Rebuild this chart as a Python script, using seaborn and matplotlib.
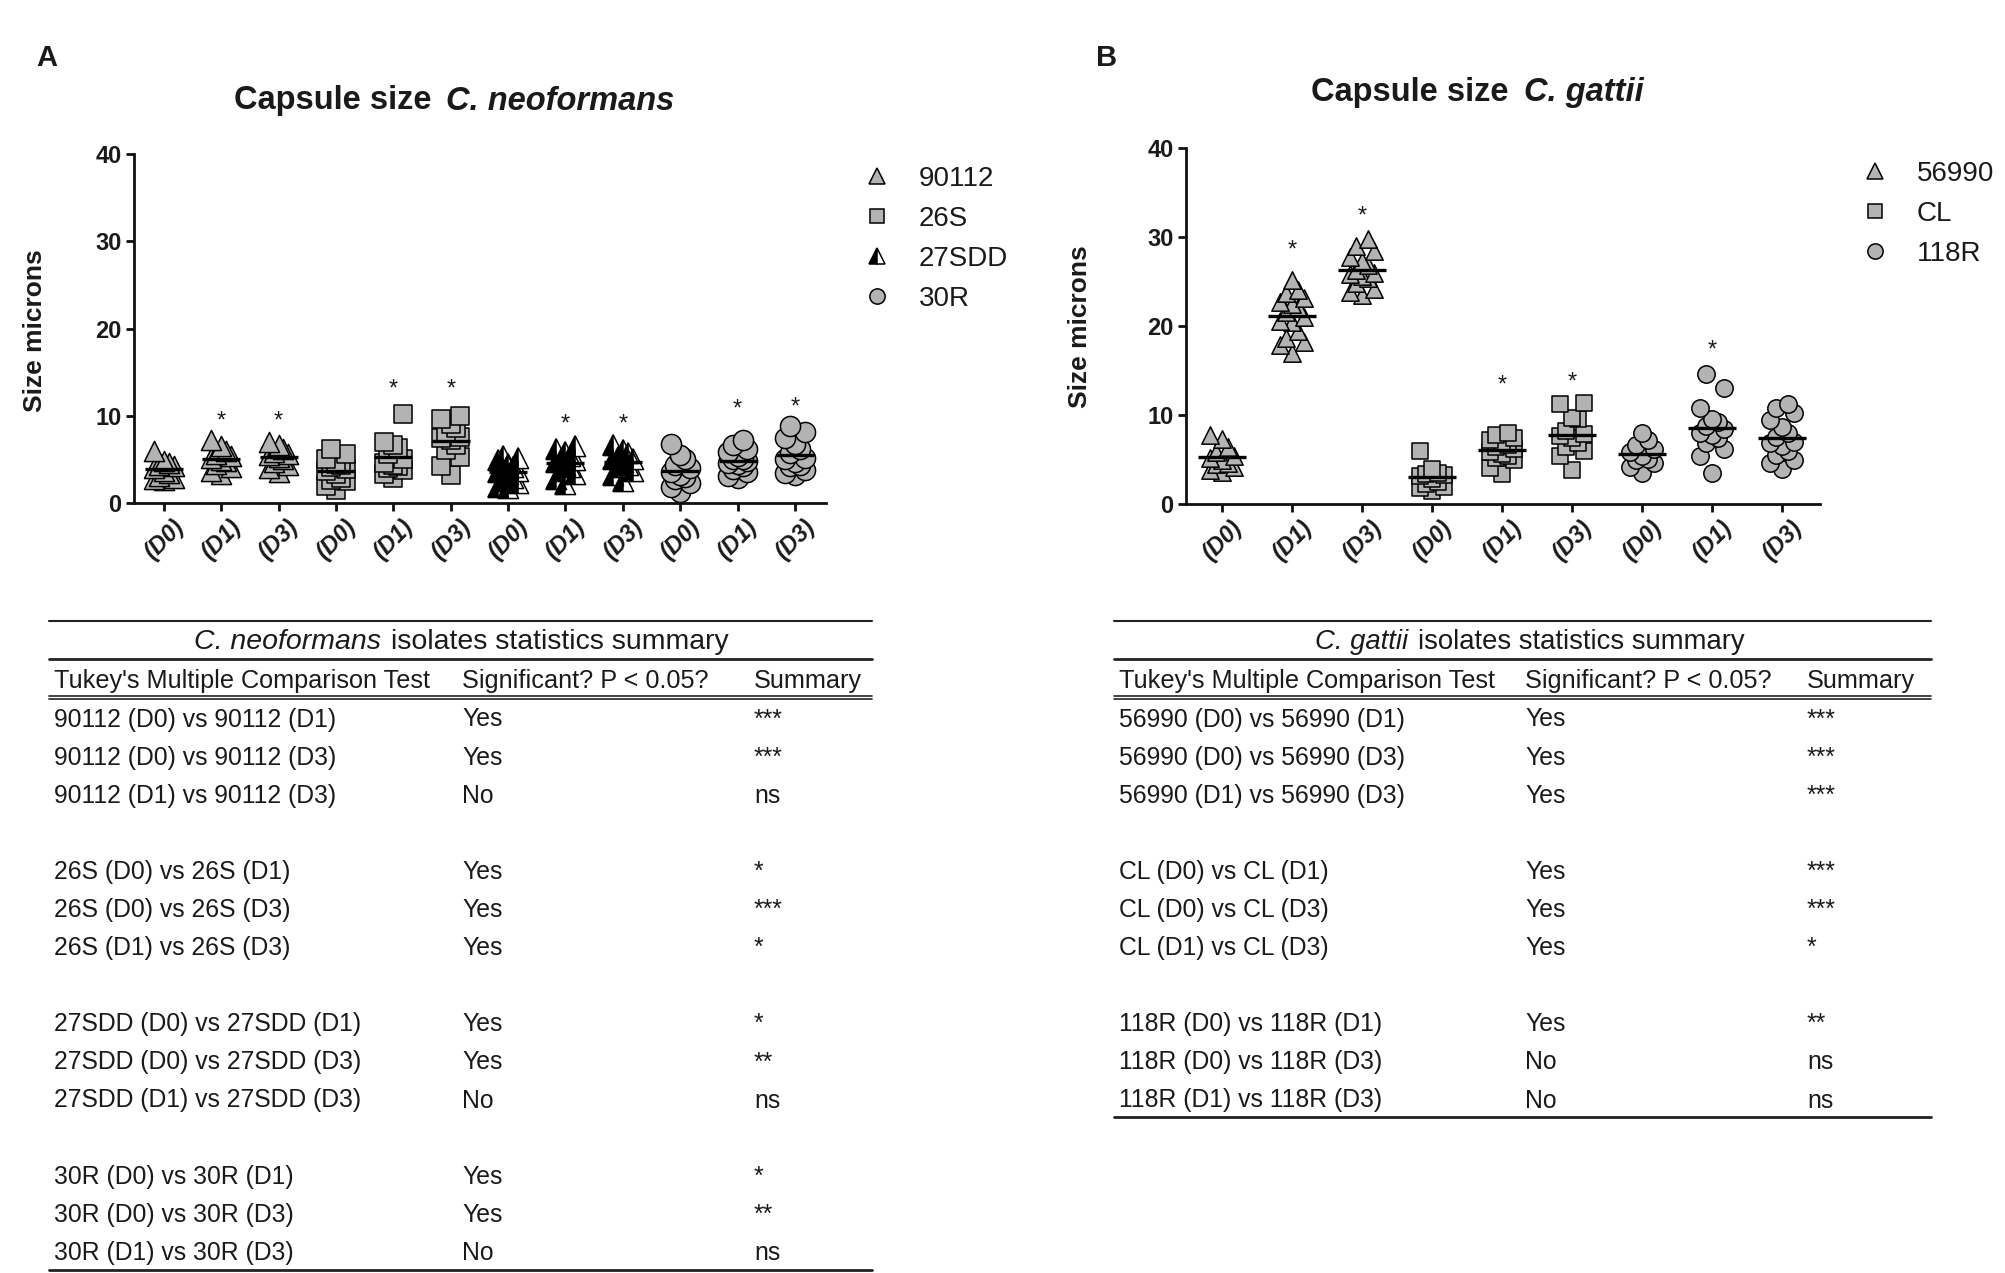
import matplotlib
matplotlib.use('Agg')
import matplotlib.pyplot as plt
from matplotlib.lines import Line2D
from matplotlib.markers import MarkerStyle
from matplotlib.text import Annotation
import seaborn as sns
import numpy as np
import pandas as pd

days = ['(D0)', '(D1)', '(D3)']

# C. neoformans capsule size (microns), one list per day D0, D1, D3
neo_strains = ['90112', '26S', '27SDD', '30R']
neo_90112 = [[6.0, 4.6, 4.3, 4.0, 3.7, 3.4, 3.1, 2.8, 2.6, 4.2, 4.8, 2.9],
             [7.2, 6.5, 6.0, 5.6, 5.2, 4.9, 4.5, 4.1, 3.7, 3.3, 5.4, 4.8],
             [7.0, 6.6, 6.2, 5.9, 5.6, 5.3, 5.0, 4.7, 4.3, 3.6, 5.5, 4.0]]
neo_26s = [[6.2, 5.6, 5.0, 4.5, 4.1, 3.7, 3.3, 2.9, 2.5, 2.0, 1.5, 3.9, 4.3, 2.6],
           [10.2, 7.0, 6.7, 6.3, 5.6, 5.0, 4.6, 4.2, 3.8, 3.3, 2.9, 4.0, 4.4],
           [10.0, 9.6, 9.1, 8.6, 8.1, 7.6, 7.2, 6.7, 6.1, 5.3, 4.2, 3.2, 7.4]]
neo_27sdd = [[5.4, 5.2, 4.9, 4.5, 4.1, 3.7, 3.3, 2.9, 2.5, 2.3, 1.7, 1.8, 3.6, 4.0],
             [6.5, 6.2, 5.8, 5.4, 5.0, 4.7, 4.4, 4.1, 3.7, 3.3, 2.8, 2.2, 4.9],
             [6.6, 6.1, 5.7, 5.3, 5.0, 4.7, 4.4, 4.1, 3.7, 3.2, 2.5, 5.1]]
neo_30r = [[6.8, 5.5, 5.0, 4.4, 4.0, 3.6, 3.2, 2.8, 2.3, 1.8, 1.3, 3.0],
           [7.2, 6.6, 6.2, 5.8, 5.4, 5.1, 4.8, 4.5, 4.2, 3.9, 3.5, 3.1, 2.9, 4.6, 5.0],
           [8.8, 8.1, 7.4, 6.8, 6.2, 5.7, 5.2, 4.7, 4.2, 3.8, 3.4, 3.2, 5.0, 4.4]]
neo_star_y = [None, 9.3, 9.3, None, 13.0, 13.0, None, 9.0, 9.0, None, 10.7, 10.9]

# C. gattii capsule size (microns)
gat_strains = ['56990', 'CL', '118R']
gat_56990 = [[7.8, 7.3, 6.4, 5.8, 5.4, 5.0, 4.6, 4.2, 3.8, 3.6, 5.2, 4.5],
             [25.2, 24.1, 23.7, 23.2, 22.7, 22.1, 21.6, 21.0, 20.6, 20.4, 19.4, 18.6,
              18.2, 17.9, 17.0, 22.5],
             [29.8, 29.0, 28.4, 27.8, 27.3, 26.8, 26.3, 25.8, 25.4, 24.8, 24.2, 23.8,
              23.5, 26.0, 25.6]]
gat_cl = [[6.0, 3.9, 3.5, 3.1, 2.8, 2.5, 2.2, 1.9, 1.8, 1.5, 3.4, 3.3],
          [8.0, 7.8, 7.4, 7.0, 6.6, 6.2, 5.8, 5.4, 5.0, 5.6, 5.2, 4.0, 3.4, 6.4, 7.2],
          [11.4, 11.2, 9.6, 9.7, 8.2, 7.6, 7.9, 7.4, 6.9, 6.4, 5.9, 5.4, 3.8]]
gat_118r = [[8.0, 7.2, 6.6, 6.2, 5.8, 5.4, 5.0, 4.6, 4.2, 3.5, 5.1],
            [14.6, 13.0, 10.8, 9.6, 9.2, 8.8, 8.4, 8.0, 7.4, 6.8, 6.2, 5.4, 3.5, 7.8],
            [11.2, 10.8, 10.2, 9.4, 8.6, 8.0, 7.5, 7.0, 6.5, 6.0, 5.5, 5.0, 4.6, 3.9, 6.8]]
gat_star_y = [None, 28.5, 32.3, None, 13.3, 13.6, None, 17.2, None]

# statistics tables
neo_tests = ['90112 (D0) vs 90112 (D1)', '90112 (D0) vs 90112 (D3)', '90112 (D1) vs 90112 (D3)',
             '26S (D0) vs 26S (D1)', '26S (D0) vs 26S (D3)', '26S (D1) vs 26S (D3)',
             '27SDD (D0) vs 27SDD (D1)', '27SDD (D0) vs 27SDD (D3)', '27SDD (D1) vs 27SDD (D3)',
             '30R (D0) vs 30R (D1)', '30R (D0) vs 30R (D3)', '30R (D1) vs 30R (D3)']
neo_signif = ['Yes', 'Yes', 'No', 'Yes', 'Yes', 'Yes', 'Yes', 'Yes', 'No', 'Yes', 'Yes', 'No']
neo_summary = ['***', '***', 'ns', '*', '***', '*', '*', '**', 'ns', '*', '**', 'ns']

gat_tests = ['56990 (D0) vs 56990 (D1)', '56990 (D0) vs 56990 (D3)', '56990 (D1) vs 56990 (D3)',
             'CL (D0) vs CL (D1)', 'CL (D0) vs CL (D3)', 'CL (D1) vs CL (D3)',
             '118R (D0) vs 118R (D1)', '118R (D0) vs 118R (D3)', '118R (D1) vs 118R (D3)']
gat_signif = ['Yes', 'Yes', 'Yes', 'Yes', 'Yes', 'Yes', 'Yes', 'No', 'No']
gat_summary = ['***', '***', '***', '***', '***', '*', '**', 'ns', 'ns']

table_header = ["Tukey's Multiple Comparison Test", 'Significant? P < 0.05?', 'Summary']

GRAY = '#b3b3b3'
INK = '#1a1a1a'
W, H = 2005, 1273

sns.set_theme(style='ticks')
plt.rcParams['font.family'] = ['Liberation Sans', 'DejaVu Sans']
plt.rcParams['text.color'] = INK


def fx(px):
    return px / W


def fy(py):
    return 1 - py / H


def build_frame(strains, groups):
    # deterministic side-by-side spread of points sorted by value
    spread = [0.0, -0.17, 0.17, -0.085, 0.085]
    recs = []
    for s_i, (strain, per_day) in enumerate(zip(strains, groups)):
        for d_i, vals in enumerate(per_day):
            pos = s_i * 3 + d_i
            for rank, idx in enumerate(np.argsort(vals)):
                recs.append({'strain': strain, 'pos': pos,
                             'x': pos + spread[rank % len(spread)],
                             'size': vals[idx]})
    return pd.DataFrame(recs)


def draw_panel(ax, df, strains, markers, msize, mean_w, star_y):
    for strain in strains:
        sub = df[df['strain'] == strain]
        m = markers[strain]
        if m == 'half':
            sns.scatterplot(data=sub, x='x', y='size', marker='^', s=msize ** 2,
                            color='white', edgecolor='black', linewidth=1.1,
                            ax=ax, legend=False)
            sns.scatterplot(data=sub, x='x', y='size',
                            marker=MarkerStyle('^', fillstyle='left'), s=msize ** 2,
                            color='black', edgecolor='black', linewidth=1.1,
                            ax=ax, legend=False)
        else:
            sc = msize * 0.92 if m == 's' else msize
            sns.scatterplot(data=sub, x='x', y='size', marker=m, s=sc ** 2,
                            color=GRAY, edgecolor='black', linewidth=1.1,
                            ax=ax, legend=False)
    # mean line
    sns.pointplot(data=df, x='pos', y='size', native_scale=True, errorbar=None,
                  color='black', marker='_', markersize=mean_w, markeredgewidth=2.4,
                  linestyle='none', ax=ax, zorder=6)
    for i, y in enumerate(star_y):
        if y is not None:
            ax.text(i, y, '*', ha='center', va='center', fontsize=17, color=INK)

    n = len(strains) * 3
    ax.set_xlim(-0.52, n - 1 + 0.54)
    ax.set_ylim(0, 40)
    ax.set_yticks([0, 10, 20, 30, 40])
    ax.set_xticks(range(n))
    ax.set_xticklabels(days * len(strains), rotation=45, fontstyle='italic',
                       fontweight='bold', fontsize=17)
    ax.set_xlabel('')
    ax.set_ylabel('')
    ax.spines[['top', 'right']].set_visible(False)
    for sp in ['left', 'bottom']:
        ax.spines[sp].set_linewidth(2.0)
        ax.spines[sp].set_color('#111111')
    ax.tick_params(axis='both', direction='out', length=6, width=2, color='#111111',
                   labelcolor=INK)
    ax.tick_params(axis='y', labelsize=17, pad=3)
    ax.tick_params(axis='x', pad=3)
    for lab in ax.get_yticklabels():
        lab.set_fontweight('bold')
    ax.set_facecolor('white')


def title_two_part(fig, left_px, y_px, first, second, size, weight, first_style,
                   second_style, gap):
    t = fig.text(fx(left_px), fy(y_px), first, ha='left', va='center', fontsize=size,
                 fontweight=weight, fontstyle=first_style, color=INK)
    fig.add_artist(Annotation(second, xy=(1, 0), xycoords=t, xytext=(gap, 0),
                              textcoords='offset pixels', ha='left', va='bottom',
                              fontsize=size, fontweight=weight, fontstyle=second_style,
                              color=INK))


def hline(fig, x0, x1, y, lw):
    fig.add_artist(Line2D([fx(x0), fx(x1)], [fy(y), fy(y)], transform=fig.transFigure,
                          color='#222222', lw=lw))


def draw_table(fig, x0, x1, cols, title_left, title_size, title_it, tests, signif, summary):
    fs = 17.8
    hline(fig, x0, x1, 621, 1.5)
    title_two_part(fig, title_left, 642, title_it, 'isolates statistics summary',
                   title_size, 'normal', 'italic', 'normal', 10)
    hline(fig, x0, x1, 659, 2.0)
    for c, txt in zip(cols, table_header):
        fig.text(fx(c), fy(681), txt, ha='left', va='center', fontsize=18.2, color=INK)
    hline(fig, x0, x1, 696, 1.2)
    hline(fig, x0, x1, 699.5, 1.2)
    slot = 0
    for k in range(len(tests)):
        if k > 0 and k % 3 == 0:
            slot += 1
        y = 719.5 + slot * 38.1
        fig.text(fx(cols[0]), fy(y), tests[k], ha='left', va='center', fontsize=fs, color=INK)
        fig.text(fx(cols[1]), fy(y), signif[k], ha='left', va='center', fontsize=fs, color=INK)
        fig.text(fx(cols[2]), fy(y), summary[k], ha='left', va='center', fontsize=fs, color=INK)
        slot += 1
    hline(fig, x0, x1, 718.6 + (slot - 1) * 38.1 + 17.5, 2.0)


def legend_handles(strains, markers):
    hs = []
    for s in strains:
        m = markers[s]
        if m == 'half':
            hs.append(Line2D([], [], linestyle='none', marker='^', fillstyle='left',
                             markersize=11, markerfacecolor='black',
                             markerfacecoloralt='white', markeredgecolor='black',
                             markeredgewidth=1.1, label=s))
        else:
            hs.append(Line2D([], [], linestyle='none', marker=m,
                             markersize=10 if m == 's' else 11, markerfacecolor=GRAY,
                             markeredgecolor='black', markeredgewidth=1.1, label=s))
    return hs


neo_df = build_frame(neo_strains, [neo_90112, neo_26s, neo_27sdd, neo_30r])
gat_df = build_frame(gat_strains, [gat_56990, gat_cl, gat_118r])
neo_markers = {'90112': '^', '26S': 's', '27SDD': 'half', '30R': 'o'}
gat_markers = {'56990': '^', 'CL': 's', '118R': 'o'}

fig = plt.figure(figsize=(W / 100, H / 100), dpi=100)
fig.patch.set_facecolor('white')

ax_a = fig.add_axes([fx(134), fy(503), (826 - 134) / W, (503 - 154) / H])
draw_panel(ax_a, neo_df, neo_strains, neo_markers, 14.5, 28, neo_star_y)
ax_b = fig.add_axes([fx(1186), fy(504), (1820 - 1186) / W, (504 - 148) / H])
draw_panel(ax_b, gat_df, gat_strains, gat_markers, 12.5, 35, gat_star_y)

# panel letters, titles, axis labels
fig.text(fx(47), fy(58), 'A', ha='center', va='center', fontsize=21, fontweight='bold')
fig.text(fx(1107), fy(58), 'B', ha='center', va='center', fontsize=21, fontweight='bold')
title_two_part(fig, 234, 101, 'Capsule size', 'C. neoformans', 23.5, 'bold', 'normal',
               'italic', 15)
title_two_part(fig, 1311, 93, 'Capsule size', 'C. gattii', 23.5, 'bold', 'normal',
               'italic', 15)
fig.text(fx(35), fy(331), 'Size microns', rotation=90, ha='center', va='center',
         fontsize=19, fontweight='bold')
fig.text(fx(1080), fy(327), 'Size microns', rotation=90, ha='center', va='center',
         fontsize=19, fontweight='bold')

for handles, anchor in [(legend_handles(neo_strains, neo_markers), (fx(863), fy(166))),
                        (legend_handles(gat_strains, gat_markers), (fx(1861), fy(161)))]:
    fig.legend(handles=handles, loc='upper left', bbox_to_anchor=anchor,
               bbox_transform=fig.transFigure, frameon=False, fontsize=20,
               handlelength=1.0, handletextpad=1.0, labelspacing=0.5, borderpad=0,
               borderaxespad=0, labelcolor=INK)

draw_table(fig, 49, 872, [54, 462, 754], 194, 20.5, 'C. neoformans', neo_tests,
           neo_signif, neo_summary)
draw_table(fig, 1114, 1931, [1119, 1525, 1807], 1315, 19.8, 'C. gattii', gat_tests,
           gat_signif, gat_summary)

fig.savefig('out.png', dpi=100, facecolor='white')
